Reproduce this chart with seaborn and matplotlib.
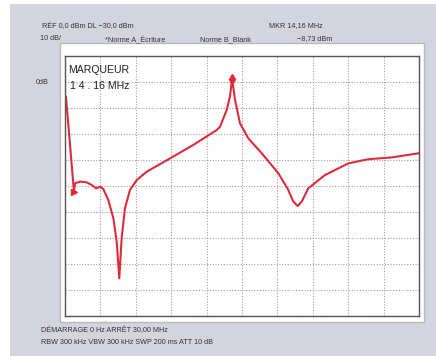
import matplotlib
matplotlib.use("Agg")
import matplotlib.pyplot as plt
import numpy as np
import pandas as pd
import seaborn as sns
from matplotlib.patches import Rectangle

# trace: frequency (MHz) vs level (dB)
freq_mhz = [0.08, 0.76, 0.85, 1.27, 1.84, 2.26, 2.63, 2.97, 3.25, 3.67, 4.10, 4.38, 4.60,
            4.80, 5.08, 5.51, 6.08, 6.92, 8.90, 10.87, 12.85, 13.14, 13.70, 13.98, 14.16,
            14.41, 14.83, 15.54, 16.67, 18.08, 18.92, 19.35, 19.72, 20.06, 20.62,
            22.03, 24.01, 25.70, 27.69, 30.00]
level_db = [-5.6, -42.2, -39.0, -38.3, -38.6, -39.6, -40.9, -40.3, -41.2, -45.4, -52.4, -61.4, -75.5,
            -60.1, -48.6, -41.5, -37.7, -34.5, -29.4, -24.2, -18.5, -17.2, -10.8, -5.6, 1.3,
            -6.9, -15.9, -21.7, -27.4, -35.1, -41.5, -46.0, -47.7, -46.0, -40.9,
            -35.8, -31.3, -29.7, -29.0, -27.4]
marker_freq = [14.16, 0.76]
marker_level = [1.3, -42.2]

header_left = ["RÉF 0,0 dBm DL −30,0 dBm", "10 dB/"]
header_right = ["MKR 14,16 MHz", "−8,73 dBm"]
traces = ["*Norme A_Écriture", "Norme B_Blank"]
footer = ["DÉMARRAGE 0 Hz ARRÊT 30,00 MHz", "RBW 300 kHz VBW 300 kHz SWP 200 ms ATT 10 dB"]

sns.set_theme(style="white")
plt.rcParams["font.family"] = ["Liberation Sans", "DejaVu Sans"]

W, H = 436, 356
fig = plt.figure(figsize=(W / 100, H / 100), dpi=100, facecolor="white")


def fx(px):
    return px / W


def fy(py):
    return 1 - py / H


# gray instrument background and white screen panel
fig.patches.append(Rectangle((fx(10), 0), 1 - fx(10), fy(4), transform=fig.transFigure,
                             facecolor="#d4d4de", edgecolor="none", zorder=0))
fig.patches.append(Rectangle((fx(60), fy(322)), fx(364), (322 - 43) / H, transform=fig.transFigure,
                             facecolor="white", edgecolor="#b8b8c0", linewidth=1, zorder=1))

ax = fig.add_axes([fx(65), fy(316), fx(354), 260 / H])
ax.set_zorder(2)

df = pd.DataFrame({"MHz": freq_mhz, "dB": level_db})
sns.lineplot(data=df, x="MHz", y="dB", color="#dd2b3a", linewidth=1.5, ax=ax, sort=False)
ax.plot(marker_freq[:1], marker_level[:1], marker="d", color="#dd2b3a", markersize=5, linestyle="none")
ax.plot(marker_freq[1:], marker_level[1:], marker=">", color="#dd2b3a", markersize=4, linestyle="none")

ax.set_xlim(0, 30)
ax.set_ylim(-90, 10)
ax.set_xticks(np.arange(0, 31, 3))
ax.set_yticks(np.arange(-90, 11, 10))
ax.set_xticklabels([])
ax.set_yticklabels([])
ax.tick_params(length=0)
ax.set_xlabel("")
ax.set_ylabel("")
ax.grid(True, color="#a0a0a0", linestyle=(0, (1, 1.5)), linewidth=0.8)
for s in ax.spines.values():
    s.set_color("#555555")
    s.set_linewidth(1)

ax.text(0.008, 0.965, "MARQUEUR", transform=ax.transAxes, fontsize=7.6, color="#222222", va="top")
ax.text(0.015, 0.905, "1 4 . 16 MHz", transform=ax.transAxes, fontsize=7.6, color="#222222", va="top")

tc = "#333333"
fs = 5.2
fig.text(fx(42), fy(26), header_left[0], fontsize=fs, color=tc, va="center")
fig.text(fx(40), fy(39), header_left[1], fontsize=fs, color=tc, va="center")
fig.text(fx(105), fy(40), traces[0], fontsize=fs, color=tc, va="center")
fig.text(fx(200), fy(40), traces[1], fontsize=fs, color=tc, va="center")
fig.text(fx(269), fy(26), header_right[0], fontsize=fs, color=tc, va="center")
fig.text(fx(297), fy(39), header_right[1], fontsize=fs, color=tc, va="center")
fig.text(fx(36), fy(83), "0dB", fontsize=fs, color=tc, va="center")
fig.text(fx(41), fy(330), footer[0], fontsize=fs, color=tc, va="center")
fig.text(fx(41), fy(343), footer[1], fontsize=fs, color=tc, va="center")

fig.savefig("out.png", dpi=100, facecolor=fig.get_facecolor())
